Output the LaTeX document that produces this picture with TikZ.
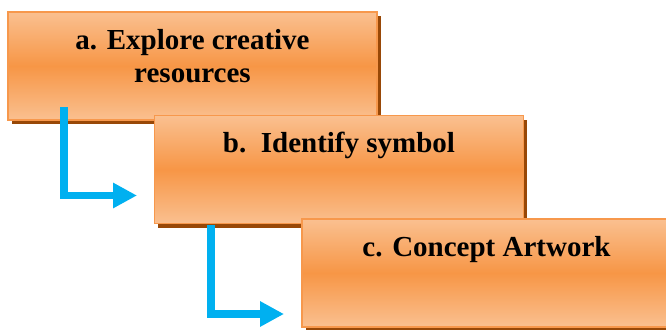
\documentclass[tikz,border=0pt]{standalone}
\usepackage{fontspec}
\setmainfont{Liberation Serif}
\usepackage{tikz}
\usetikzlibrary{shapes,arrows.meta,shadows,positioning,fit}

\definecolor{boxlight}{RGB}{250,192,144}
\definecolor{boxmid}{RGB}{247,150,70}
\definecolor{boxedge}{RGB}{247,152,76}
\definecolor{boxshade}{RGB}{152,72,7}
\definecolor{flowblue}{RGB}{0,176,240}

\begin{document}
\begin{tikzpicture}[x=1pt, y=-1pt]
			\tikzstyle{Step}	= [rectangle, draw=boxedge, line width=1.6pt, top color=boxlight, bottom color=boxlight, middle color=boxmid, minimum width=369pt, minimum height=108pt, inner sep=0pt, general shadow={fill=boxshade, shadow xshift=3.5pt, shadow yshift=-4pt}]
			\tikzstyle{Caption}	= [align=center, font=\fontsize{29}{33}\selectfont\bfseries, inner sep=0pt]
			\tikzstyle{Flow}	= [draw=flowblue, line width=7.5pt, -{Triangle[length=24pt, width=24pt]}, flowblue]

			\useasboundingbox (0,0) rectangle (666,329);

			\node (sa) at (192.5,66) [Step] {};
			\node (sb) at (339,169.5) [Step] {};
			\node (sc) at (486.5,273) [Step] {};

			\node (ta) [Caption, anchor=base] at ([yshift=-71pt]sa.north) {a. Explore creative\\resources};
			\node (tb) [Caption, anchor=base] at ([yshift=-38pt]sb.north) {b.\ \ Identify symbol};
			\node (tc) [Caption, anchor=base] at ([yshift=-38pt]sc.north) {c. Concept Artwork};

			\coordinate (fa) at (64,107);
			\coordinate (ga) at (137,195.5);
			\coordinate (fb) at (211,225);
			\coordinate (gb) at (284,314);

			\draw [Flow] (fa) |- (ga);
			\draw [Flow] (fb) |- (gb);
		\end{tikzpicture}
\end{document}
